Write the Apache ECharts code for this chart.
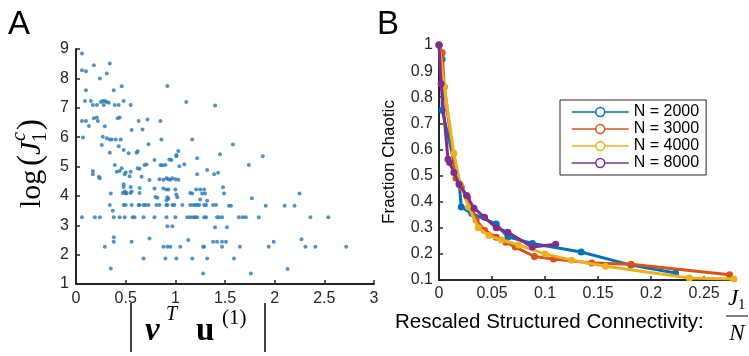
<!DOCTYPE html>
<html><head><meta charset="utf-8">
<script src="https://cdn.jsdelivr.net/npm/echarts@6/dist/echarts.min.js"></script>
<style>html,body{margin:0;padding:0;background:#fff}#c{width:749px;height:356px}</style>
</head><body><div id="c"></div>
<script>
// ---- Panel A: scatter data ----
var scatterX = [0.06,0.06,0.10,0.18,0.34,0.31,0.24,0.10,0.09,0.15,0.17,0.21,0.25,0.27,0.29,0.31,0.33,0.28,0.39,0.43,0.48,0.38,0.46,0.55,0.92,1.11,1.40,
0.06,0.10,0.13,0.18,0.21,0.22,0.29,0.42,0.44,0.56,0.63,0.67,0.72,0.73,0.85,0.86,1.17,0.07,0.27,0.31,0.34,0.36,0.40,0.45,0.26,0.43,0.34,0.48,0.53,0.61,0.62,1.03,1.01,
1.58,1.45,1.88,1.74,1.32,1.39,1.43,1.48,1.49,1.77,2.25,1.54,1.56,1.91,2.10,2.20,
0.17,0.17,0.23,0.24,0.39,0.41,0.44,0.46,0.49,0.50,0.54,0.55,0.62,0.64,0.66,0.69,0.71,0.74,0.79,0.85,0.87,0.90,0.94,0.96,1.01,1.09,1.04,1.22,1.22,
0.84,0.88,0.91,0.93,0.95,0.97,1.00,1.03,
0.48,0.48,0.49,0.55,0.56,0.55,0.64,0.64,0.35,0.47,0.50,0.51,0.79,0.80,0.82,0.88,0.91,0.93,0.92,0.93,0.91,1.00,1.01,1.02,1.15,1.17,1.21,
0.34,0.48,0.50,0.56,0.63,0.64,0.68,0.70,0.73,0.81,0.84,0.91,0.92,0.97,0.99,1.07,1.15,1.18,1.20,1.22,1.24,1.29,1.31,1.38,1.41,
0.06,0.19,0.24,0.38,0.44,0.49,0.57,0.59,0.68,0.79,0.91,1.00,1.12,1.15,1.18,1.20,1.22,
0.37,0.92,0.97,0.29,0.38,0.38,0.56,0.74,0.88,0.92,0.95,1.05,1.13,0.68,0.90,1.01,1.17,0.35,1.28,
1.25,1.29,1.27,1.30,1.25,1.32,
1.29,1.31,1.42,1.44,1.47,1.64,1.68,1.71,1.84,2.36,2.54,
1.40,1.52,1.38,1.42,1.47,1.51,1.99,2.27,
1.28,1.29,1.47,1.65,1.94,2.31,2.41,2.72,
1.32,1.59,2.13,1.76];
var scatterY = [8.85,8.28,8.24,8.45,8.51,8.17,8.00,7.60,7.23,7.23,7.09,7.09,7.20,7.23,7.23,7.20,7.17,7.09,7.09,7.09,7.23,7.60,7.73,7.09,7.74,7.20,7.08,
6.55,6.55,6.38,6.64,6.67,6.55,6.37,6.64,6.67,6.24,6.55,6.26,6.60,5.76,6.55,5.92,5.92,5.99,6.01,5.96,5.92,5.92,5.92,5.92,5.73,5.69,5.47,5.56,5.45,5.47,5.52,5.53,5.35,
5.75,5.42,5.35,5.05,4.88,4.74,4.79,4.29,4.08,3.92,4.08,3.66,3.66,3.66,3.66,3.66,
4.85,4.74,4.65,4.60,5.05,4.82,4.85,4.94,4.74,4.80,4.67,4.82,4.94,4.92,4.65,5.05,5.07,4.54,5.22,5.05,5.04,5.05,5.24,5.22,5.39,5.08,5.01,4.74,5.28,
4.57,4.55,4.60,4.57,4.55,4.60,4.57,4.55,
4.40,4.30,4.15,4.30,4.15,4.10,4.27,4.10,4.08,4.10,4.08,4.10,4.25,3.96,3.94,4.25,4.22,4.22,3.95,3.90,3.85,4.22,4.05,3.95,4.10,4.08,4.22,
3.69,3.69,3.69,3.69,3.69,3.69,3.69,3.69,3.69,3.69,3.69,3.69,3.69,3.69,3.69,3.69,3.69,3.69,3.69,3.69,3.69,3.69,3.69,3.69,3.69,
3.27,3.27,3.27,3.27,3.27,3.27,3.27,3.27,3.27,3.27,3.27,3.27,3.27,3.27,3.27,3.27,3.27,
3.49,2.97,2.97,2.27,2.59,2.44,2.44,2.55,2.27,2.27,2.27,2.27,2.50,1.87,1.87,1.87,1.87,1.53,1.36,
4.22,4.22,4.08,4.08,3.88,3.83,
3.27,3.27,3.27,3.27,3.27,3.27,3.27,3.27,3.27,3.27,3.27,
2.93,2.93,2.44,2.44,2.44,2.44,2.44,2.52,
2.27,2.27,2.27,2.27,2.27,2.27,2.27,2.27,
1.87,1.87,1.51,1.36];
var xTicksA = [0,0.5,1,1.5,2,2.5,3];
var yTicksA = [1,2,3,4,5,6,7,8,9];

// ---- Panel B: fraction chaotic vs J1/N ----
var seriesNames = ['N = 2000','N = 3000','N = 4000','N = 8000'];
var x2000 = [0,0.003,0.003,0.019,0.021,0.031,0.054,0.065,0.088,0.134,0.181,0.223];
var y2000 = [1.0,0.945,0.75,0.47,0.38,0.355,0.314,0.265,0.24,0.207,0.157,0.127];
var x3000 = [0,0.003,0.005,0.016,0.021,0.027,0.035,0.043,0.054,0.063,0.072,0.09,0.108,0.144,0.181,0.274];
var y3000 = [1.0,0.97,0.84,0.49,0.455,0.417,0.33,0.29,0.264,0.245,0.226,0.19,0.18,0.165,0.16,0.12];
var x4000 = [0,0.005,0.014,0.02,0.028,0.037,0.047,0.059,0.075,0.1,0.125,0.157,0.236,0.278];
var y4000 = [1.0,0.84,0.585,0.466,0.38,0.30,0.27,0.253,0.234,0.2,0.176,0.153,0.108,0.104];
var x8000 = [0,0.002,0.0085,0.01,0.014,0.019,0.026,0.033,0.043,0.054,0.065,0.088,0.11];
var y8000 = [1.0,0.852,0.562,0.55,0.512,0.466,0.424,0.375,0.34,0.30,0.283,0.226,0.237];
var colors = ['#0072BD','#D95319','#EDB120','#7E2F8E'];

function zip(a,b){var r=[];for(var i=0;i<a.length;i++)r.push([a[i],b[i]]);return r;}

var axColor = '#262626';
var sans = 'Liberation Sans, Arial, sans-serif';
var serif = 'Liberation Serif, Times New Roman, serif';
function valAxis(o){
  var base = {
    type:'value', splitLine:{show:false},
    axisLine:{show:true,onZero:false,lineStyle:{color:axColor,width:2}},
    axisTick:{show:true,inside:true,length:4,lineStyle:{color:axColor,width:1.5}},
    axisLabel:{color:axColor,fontSize:16,fontFamily:sans,margin:7}
  };
  for (var k in o) base[k]=o[k];
  return base;
}

var lineSeries = [[x2000,y2000],[x3000,y3000],[x4000,y4000],[x8000,y8000]].map(function(p,i){
  return {type:'line',name:seriesNames[i],xAxisIndex:1,yAxisIndex:1,data:zip(p[0],p[1]),
    symbol:'circle',symbolSize:7,showSymbol:true,showAllSymbol:true,
    lineStyle:{width:3,color:colors[i]},itemStyle:{color:colors[i]},z:3+i,animation:false};
});

var legendData = seriesNames.map(function(n,i){
  return {name:n,itemStyle:{color:'#fff',borderColor:colors[i],borderWidth:1.5},lineStyle:{color:colors[i],width:1.5}};
});

var chart = echarts.init(document.getElementById('c'),null,{renderer:'canvas'});
chart.setOption({
  animation:false,
  color:colors,
  grid:[{left:76,top:49,width:298,height:235},{left:439,top:45,width:297,height:235}],
  xAxis:[valAxis({gridIndex:0,min:xTicksA[0],max:xTicksA[xTicksA.length-1],interval:0.5,
           axisLabel:{color:axColor,fontSize:16,fontFamily:sans,margin:7,formatter:function(v){return String(v);}}}),
         valAxis({gridIndex:1,min:0,max:0.28,interval:0.05,
           axisLabel:{color:axColor,fontSize:16,fontFamily:sans,margin:6,showMaxLabel:false}})],
  yAxis:[valAxis({gridIndex:0,min:yTicksA[0],max:yTicksA[yTicksA.length-1],interval:1}),
         valAxis({gridIndex:1,min:0.1,max:1,interval:0.1,
           axisLabel:{color:axColor,fontSize:16,fontFamily:sans,margin:6,formatter:function(v){return String(+v.toFixed(2));}}})],
  legend:{show:true,data:legendData,orient:'vertical',left:560,top:100,
    backgroundColor:'#fff',borderColor:axColor,borderWidth:1,borderRadius:0,
    padding:[4,7,4,11],itemWidth:57,itemHeight:11,itemGap:1,itemTextGap:7,
    textStyle:{fontSize:16,fontFamily:sans,color:'#000',lineHeight:16}},
  series:[{type:'scatter',xAxisIndex:0,yAxisIndex:0,data:zip(scatterX,scatterY),symbolSize:4,
           itemStyle:{color:'#2878B5'},animation:false}].concat(lineSeries),
  graphic:[
    {type:'text',left:8,top:8,style:{text:'A',fontSize:33,fontFamily:sans,fill:'#000'}},
    {type:'text',left:377,top:8,style:{text:'B',fontSize:33,fontFamily:sans,fill:'#000'}},
    // left y label: log(J_1^c)
    {type:'group',x:32,y:160,rotation:Math.PI/2,children:[
      {type:'text',x:-48,y:0,style:{text:'log',fontSize:30,fontFamily:serif,fill:'#000',textVerticalAlign:'middle'}},
      {type:'text',x:-6,y:-1,style:{text:'(',fontSize:33,fontFamily:serif,fill:'#000',textVerticalAlign:'middle'}},
      {type:'text',x:5,y:0,style:{text:'J',fontSize:30,fontStyle:'italic',fontFamily:serif,fill:'#000',textVerticalAlign:'middle'}},
      {type:'text',x:18,y:9,style:{text:'1',fontSize:20,fontFamily:serif,fill:'#000',textVerticalAlign:'middle'}},
      {type:'text',x:19,y:-12,style:{text:'c',fontSize:20,fontStyle:'italic',fontFamily:serif,fill:'#000',textVerticalAlign:'middle'}},
      {type:'text',x:30,y:-1,style:{text:')',fontSize:33,fontFamily:serif,fill:'#000',textVerticalAlign:'middle'}}
    ]},
    // left x label: |nu^T u^(1)|
    {type:'line',shape:{x1:131,y1:303,x2:131,y2:352},style:{stroke:'#000',lineWidth:1.5}},
    {type:'line',shape:{x1:265,y1:303,x2:265,y2:352},style:{stroke:'#000',lineWidth:1.5}},
    {type:'text',x:145,y:331,style:{text:'\u03BD',fontSize:33,fontStyle:'italic',fontWeight:'bold',fontFamily:serif,fill:'#000',textVerticalAlign:'middle'}},
    {type:'text',x:166,y:315,style:{text:'T',fontSize:20,fontStyle:'italic',fontFamily:serif,fill:'#000',textVerticalAlign:'middle'}},
    {type:'text',x:196,y:331,style:{text:'u',fontSize:33,fontWeight:'bold',fontFamily:serif,fill:'#000',textVerticalAlign:'middle'}},
    {type:'text',x:222,y:318,style:{text:'(1)',fontSize:21,fontFamily:serif,fill:'#000',textVerticalAlign:'middle'}},
    // right y label
    {type:'text',x:389,y:162,rotation:Math.PI/2,style:{text:'Fraction Chaotic',fontSize:17,fontFamily:sans,fill:'#000',textAlign:'center',textVerticalAlign:'middle'}},
    // right x label
    {type:'text',x:395,y:322,style:{text:'Rescaled Structured Connectivity:',fontSize:20.5,fontFamily:sans,fill:'#000',textVerticalAlign:'middle'}},
    {type:'text',x:728,y:299,style:{text:'J',fontSize:23,fontStyle:'italic',fontFamily:serif,fill:'#000',textVerticalAlign:'middle'}},
    {type:'text',x:738,y:305,style:{text:'1',fontSize:15,fontFamily:serif,fill:'#000',textVerticalAlign:'middle'}},
    {type:'line',shape:{x1:726,y1:316,x2:748,y2:316},style:{stroke:'#000',lineWidth:1}},
    {type:'text',x:737,y:334,style:{text:'N',fontSize:23,fontStyle:'italic',fontFamily:serif,fill:'#000',textAlign:'center',textVerticalAlign:'middle'}}
  ]
});
</script></body></html>
